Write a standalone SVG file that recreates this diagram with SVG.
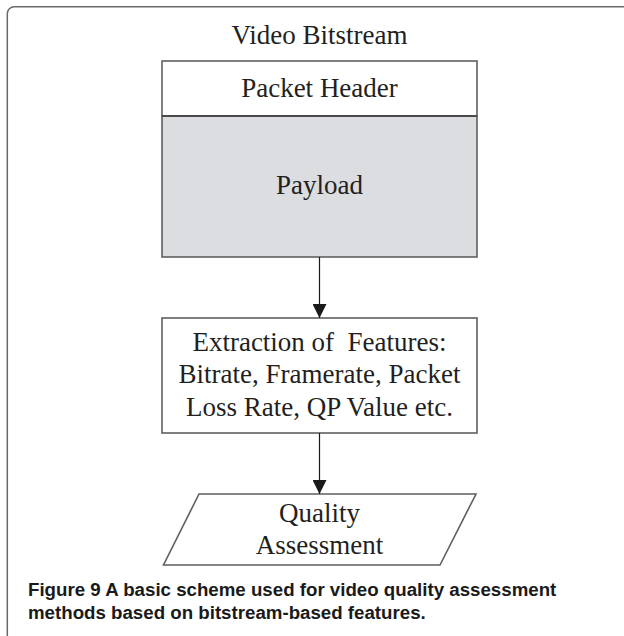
<svg xmlns="http://www.w3.org/2000/svg" width="624" height="636" viewBox="0 0 624 636">
<defs>
<style>
.lbl{font-family:"Liberation Serif","Times New Roman",serif;font-size:27px;fill:#231f20;text-anchor:middle}
.box{stroke:#5f5f5f;stroke-width:1.6}
.conn{stroke:#1a1a1a;stroke-width:1.2;fill:none}
.cap{font-family:"Liberation Sans",Arial,sans-serif;font-size:18.7px;font-weight:bold;fill:#1a1a1a}
</style>
<marker id="arr" viewBox="0 0 14 14" refX="14" refY="7" markerWidth="14" markerHeight="14" markerUnits="userSpaceOnUse" orient="auto">
<path d="M0,0 L14,7 L0,14 Z" fill="#1a1a1a"/>
</marker>
</defs>
<rect width="624" height="636" fill="#ffffff"/>
<rect x="7.3" y="6.7" width="640" height="660" rx="7" fill="none" stroke="#6a6a6a" stroke-width="1.5"/>
<g id="bitstream">
<text class="lbl" x="319.5" y="44">Video Bitstream</text>
<rect class="box" x="162" y="61" width="315" height="55" fill="#ffffff"/>
<rect class="box" x="162" y="116" width="315" height="141" fill="#dcdde0"/>
<line x1="162" y1="116" x2="477" y2="116" stroke="#4a4a4a" stroke-width="1.8"/>
<text class="lbl" x="319.5" y="97">Packet Header</text>
<text class="lbl" x="319.5" y="194">Payload</text>
</g>
<g id="extraction">
<rect class="box" x="162" y="318" width="315" height="115" fill="#ffffff"/>
<text class="lbl" x="319.5" y="351" xml:space="preserve">Extraction of  Features:</text>
<text class="lbl" x="319.5" y="383">Bitrate, Framerate, Packet</text>
<text class="lbl" x="319.5" y="416">Loss Rate, QP Value etc.</text>
</g>
<g id="quality">
<polygon class="box" points="199,494 476,494 440,565 163.5,565" fill="#ffffff"/>
<text class="lbl" x="319.5" y="522">Quality</text>
<text class="lbl" x="319.5" y="554">Assessment</text>
</g>
<g id="connectors">
<line class="conn" x1="319.5" y1="257" x2="319.5" y2="318" marker-end="url(#arr)"/>
<line class="conn" x1="319.5" y1="433" x2="319.5" y2="494" marker-end="url(#arr)"/>
</g>
<g id="caption">
<text class="cap" x="28" y="596">Figure 9 A basic scheme used for video quality assessment</text>
<text class="cap" x="28" y="619">methods based on bitstream-based features.</text>
</g>
</svg>
